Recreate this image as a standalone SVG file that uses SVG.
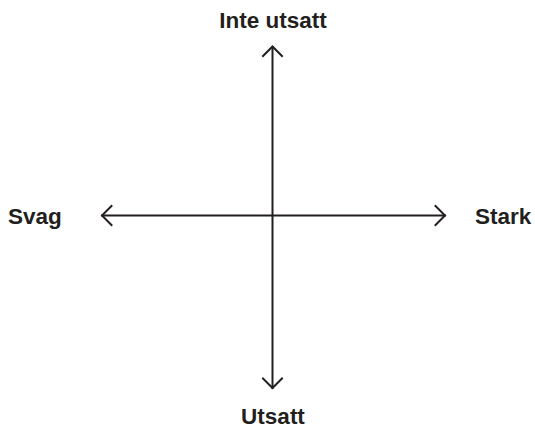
<svg xmlns="http://www.w3.org/2000/svg" width="535" height="430" viewBox="0 0 535 430">
<style>
.lbl{font-family:"Liberation Sans",Arial,sans-serif;font-weight:bold;font-size:22.5px;fill:#231f20}
.ax{stroke:#231f20;stroke-width:2;fill:none;stroke-linecap:square}
</style>
<rect width="535" height="430" fill="#ffffff"/>
<g id="connectors">
<path class="ax" d="M272.5 47 V388"/>
<path class="ax" d="M102 215.5 H445"/>
<path class="ax" d="M263 56 L272.5 46.5 L282 56"/>
<path class="ax" d="M263 378.5 L272.5 388 L282 378.5"/>
<path class="ax" d="M111.5 206 L102 215.5 L111.5 225"/>
<path class="ax" d="M435.5 206 L445 215.5 L435.5 225"/>
</g>
<g id="top"><text class="lbl" x="273" y="28" text-anchor="middle">Inte utsatt</text></g>
<g id="left"><text class="lbl" x="8" y="224">Svag</text></g>
<g id="right"><text class="lbl" x="475" y="224">Stark</text></g>
<g id="bottom"><text class="lbl" x="273" y="424" text-anchor="middle">Utsatt</text></g>
</svg>
